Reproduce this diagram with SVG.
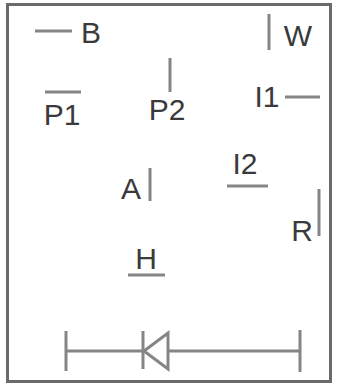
<svg xmlns="http://www.w3.org/2000/svg" width="337" height="391" viewBox="0 0 337 391">
<style>
  .lbl { font-family: "Liberation Sans", Arial, sans-serif; font-size: 30px; fill: #3a3a3a; text-anchor: middle; }
  .bar { stroke: #858585; stroke-width: 3; fill: none; }
  .frame { stroke: #6a6a6a; stroke-width: 3; fill: #fff; }
</style>
<rect class="frame" x="7.5" y="4.5" width="323" height="377"/>
<g id="node-B"><line class="bar" x1="35" y1="31" x2="72" y2="31"/><text class="lbl" x="91" y="43">B</text></g>
<g id="node-W"><line class="bar" x1="269" y1="14" x2="269" y2="50"/><text class="lbl" x="298" y="46">W</text></g>
<g id="node-P1"><line class="bar" x1="45" y1="92" x2="81" y2="92"/><text class="lbl" x="62" y="125">P1</text></g>
<g id="node-P2"><line class="bar" x1="170" y1="58" x2="170" y2="92"/><text class="lbl" x="167" y="120">P2</text></g>
<g id="node-I1"><line class="bar" x1="285" y1="97" x2="320" y2="97"/><text class="lbl" x="267" y="107">I1</text></g>
<g id="node-A"><line class="bar" x1="150" y1="168" x2="150" y2="201"/><text class="lbl" x="131" y="199">A</text></g>
<g id="node-I2"><line class="bar" x1="227" y1="186" x2="268" y2="186"/><text class="lbl" x="245" y="174">I2</text></g>
<g id="node-R"><line class="bar" x1="319" y1="189" x2="319" y2="236"/><text class="lbl" x="302" y="241">R</text></g>
<g id="node-H"><line class="bar" x1="128" y1="275" x2="165" y2="275"/><text class="lbl" x="146" y="269">H</text></g>
<g id="connectors">
  <line class="bar" x1="66" y1="351" x2="143" y2="351"/>
  <line class="bar" x1="168" y1="351" x2="300" y2="351"/>
  <line class="bar" x1="66" y1="331" x2="66" y2="371"/>
  <line class="bar" x1="300" y1="330" x2="300" y2="372"/>
  <line class="bar" x1="143" y1="331" x2="143" y2="369"/>
  <polygon class="bar" points="144,351 168,333 168,369"/>
</g>
</svg>
